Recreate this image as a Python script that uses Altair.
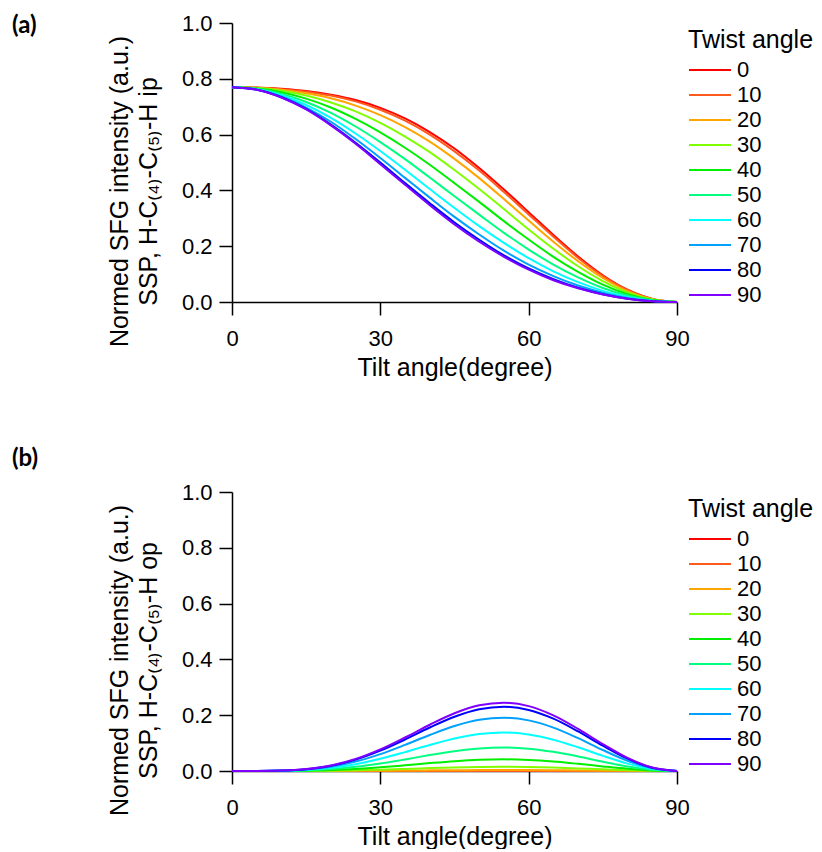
import altair as alt
import pandas as pd

# ---- data ----
tilt = [0, 5, 10, 15, 20, 25, 30, 35, 40, 45, 50, 55, 60, 65, 70, 75, 80, 85, 90]
twist = ["0", "10", "20", "30", "40", "50", "60", "70", "80", "90"]
colors = ["#ff0000", "#ff5a1e", "#ffa500", "#80ff00", "#00ee00",
          "#00ff80", "#00ffff", "#00a0ff", "#0000ff", "#8000ff"]

ip_0 = [0.770, 0.769, 0.764, 0.756, 0.743, 0.724, 0.696, 0.658, 0.609, 0.550, 0.480, 0.403, 0.322, 0.240, 0.163, 0.096, 0.044, 0.011, 0.000]
ip_10 = [0.770, 0.768, 0.763, 0.754, 0.740, 0.719, 0.689, 0.650, 0.600, 0.540, 0.471, 0.394, 0.314, 0.234, 0.158, 0.093, 0.043, 0.011, 0.000]
ip_20 = [0.770, 0.768, 0.761, 0.748, 0.730, 0.704, 0.670, 0.627, 0.575, 0.513, 0.444, 0.369, 0.292, 0.216, 0.146, 0.086, 0.039, 0.010, 0.000]
ip_30 = [0.770, 0.767, 0.757, 0.740, 0.715, 0.683, 0.642, 0.593, 0.537, 0.473, 0.405, 0.333, 0.260, 0.191, 0.128, 0.075, 0.034, 0.009, 0.000]
ip_40 = [0.770, 0.765, 0.752, 0.729, 0.697, 0.656, 0.608, 0.553, 0.492, 0.426, 0.359, 0.290, 0.224, 0.162, 0.108, 0.062, 0.028, 0.007, 0.000]
ip_50 = [0.770, 0.764, 0.746, 0.717, 0.678, 0.629, 0.573, 0.512, 0.446, 0.379, 0.313, 0.248, 0.188, 0.134, 0.088, 0.050, 0.023, 0.006, 0.000]
ip_60 = [0.770, 0.763, 0.741, 0.706, 0.660, 0.604, 0.541, 0.474, 0.405, 0.337, 0.272, 0.212, 0.157, 0.110, 0.071, 0.040, 0.018, 0.004, 0.000]
ip_70 = [0.770, 0.762, 0.737, 0.697, 0.646, 0.584, 0.516, 0.445, 0.374, 0.305, 0.242, 0.184, 0.134, 0.093, 0.059, 0.033, 0.014, 0.004, 0.000]
ip_80 = [0.770, 0.761, 0.734, 0.692, 0.636, 0.571, 0.500, 0.426, 0.354, 0.285, 0.223, 0.167, 0.120, 0.082, 0.051, 0.028, 0.012, 0.003, 0.000]
ip_90 = [0.770, 0.761, 0.733, 0.690, 0.633, 0.567, 0.494, 0.420, 0.347, 0.278, 0.216, 0.162, 0.116, 0.078, 0.049, 0.027, 0.012, 0.003, 0.000]

op_0 = [0.0] * 19
op_10 = [0, 0, 0, 0, 0, 0, 0.0001, 0.0001, 0.0002, 0.0002, 0.0002, 0.0002, 0.0002, 0.0002, 0.0001, 0.0001, 0, 0, 0]
op_20 = [0, 0, 0, 0.0001, 0.0003, 0.0006, 0.0011, 0.0016, 0.0023, 0.0028, 0.0032, 0.0034, 0.0032, 0.0027, 0.0021, 0.0013, 0.0006, 0.0002, 0]
op_30 = [0, 0, 0.0001, 0.0004, 0.0012, 0.0027, 0.0048, 0.0075, 0.0104, 0.0129, 0.0147, 0.0153, 0.0145, 0.0125, 0.0094, 0.0060, 0.0029, 0.0008, 0]
op_40 = [0, 0, 0.0002, 0.0012, 0.0034, 0.0074, 0.0132, 0.0205, 0.0283, 0.0353, 0.0402, 0.0418, 0.0397, 0.0340, 0.0258, 0.0165, 0.0080, 0.0021, 0]
op_50 = [0, 0, 0.0005, 0.0024, 0.0069, 0.0149, 0.0267, 0.0414, 0.0571, 0.0712, 0.0810, 0.0844, 0.0801, 0.0686, 0.0520, 0.0332, 0.0162, 0.0043, 0]
op_60 = [0, 0.0001, 0.0008, 0.0039, 0.0112, 0.0244, 0.0436, 0.0676, 0.0932, 0.1163, 0.1324, 0.1378, 0.1308, 0.1121, 0.0849, 0.0543, 0.0264, 0.0070, 0]
op_70 = [0, 0.0001, 0.0011, 0.0054, 0.0156, 0.0338, 0.0605, 0.0937, 0.1292, 0.1612, 0.1835, 0.1910, 0.1814, 0.1554, 0.1176, 0.0752, 0.0366, 0.0097, 0]
op_80 = [0, 0.0001, 0.0014, 0.0065, 0.0188, 0.0408, 0.0729, 0.1130, 0.1559, 0.1945, 0.2214, 0.2305, 0.2188, 0.1875, 0.1419, 0.0907, 0.0441, 0.0116, 0]
op_90 = [0, 0.0001, 0.0015, 0.0069, 0.0200, 0.0433, 0.0775, 0.1201, 0.1657, 0.2068, 0.2353, 0.2450, 0.2326, 0.1993, 0.1509, 0.0965, 0.0469, 0.0124, 0]

ip_series = [ip_0, ip_10, ip_20, ip_30, ip_40, ip_50, ip_60, ip_70, ip_80, ip_90]
op_series = [op_0, op_10, op_20, op_30, op_40, op_50, op_60, op_70, op_80, op_90]

x_ticks = [0, 30, 60, 90]
y_ticks = [0.0, 0.2, 0.4, 0.6, 0.8, 1.0]
x_title = "Tilt angle(degree)"
y_title_1 = "Normed SFG intensity (a.u.)"
y_title_ip = "SSP, H-C\u208d\u2084\u208e-C\u208d\u2085\u208e-H ip"
y_title_op = "SSP, H-C\u208d\u2084\u208e-C\u208d\u2085\u208e-H op"

FONT = "Liberation Sans"


def frame(series):
    rows = []
    for tw, vals in zip(twist, series):
        for t, v in zip(tilt, vals):
            rows.append({"tilt": t, "value": v, "twist": tw})
    return pd.DataFrame(rows)


def panel(series, y_title_2, tag, tag_dy):
    df = frame(series)
    return (
        alt.Chart(
            df,
            title=alt.TitleParams(
                tag, anchor="start", frame="group", dx=-220, dy=tag_dy,
                baseline="middle", offset=-25, font="Lato", fontSize=24,
                fontWeight="bold", color="black",
            ),
        )
        .mark_line(strokeWidth=2, interpolate="monotone")
        .encode(
            x=alt.X(
                "tilt:Q",
                scale=alt.Scale(domain=[0, 90], nice=False, zero=False),
                axis=alt.Axis(values=x_ticks, title=x_title, labelPadding=13,
                              labelFlush=False, titlePadding=6),
            ),
            y=alt.Y(
                "value:Q",
                scale=alt.Scale(domain=[0, 1], nice=False),
                axis=alt.Axis(values=y_ticks, format=".1f",
                              title=[y_title_1, y_title_2], labelPadding=7,
                              titleX=-125, titleY=168, titleBaseline="top",
                              titleAlign="center", titleAngle=270,
                              titleLineHeight=29),
            ),
            color=alt.Color(
                "twist:N",
                scale=alt.Scale(domain=twist, range=colors),
                legend=alt.Legend(
                    title="Twist angle", orient="none", legendX=456, legendY=5,
                    symbolType="stroke", symbolSize=1764, symbolStrokeWidth=2,
                    labelFontSize=22, titleFontSize=25, titleFont=FONT,
                    labelFont=FONT, titleFontWeight="normal",
                    titleColor="black", labelColor="black",
                    labelOffset=5, rowPadding=3, clipHeight=22,
                    titlePadding=6,
                ),
            ),
        )
        .properties(width=445, height=279)
    )


pa = panel(ip_series, y_title_ip, "(a)", 13)
pb = panel(op_series, y_title_op, "(b)", -23)

chart = (
    alt.vconcat(pa, pb, spacing=67)
    .resolve_legend(color="independent")
    .resolve_scale(color="independent")
    .properties(padding={"left": 12, "top": 12, "right": 2, "bottom": 0})
    .configure_view(stroke=None)
    .configure_axis(
        grid=False, domainColor="black", tickColor="black", domainWidth=1.5,
        tickWidth=1.5, tickSize=13, labelFont=FONT, labelFontSize=22,
        labelColor="black", titleFont=FONT, titleFontSize=25,
        titleFontWeight="normal", titleColor="black",
    )
)

chart.save("out.html", embed_options={"renderer": "svg", "actions": False})
